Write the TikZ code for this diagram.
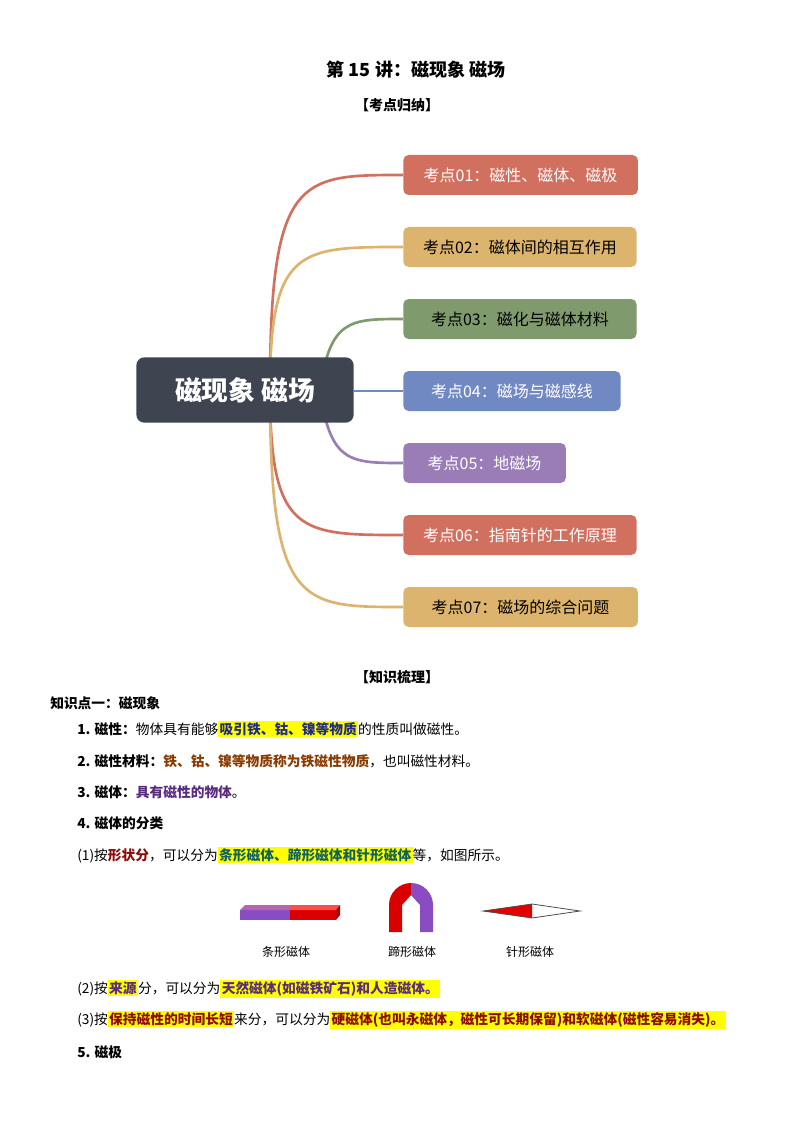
\documentclass[tikz,border=0pt]{standalone}
\usepackage{fontspec}
\usepackage{xcolor}
\setmainfont{Noto Sans CJK SC}
\usetikzlibrary{positioning,calc}
\definecolor{hub}{HTML}{3E4450}
\definecolor{cred}{HTML}{D2705F}
\definecolor{cyel}{HTML}{DDB46E}
\definecolor{cgrn}{HTML}{7F9A6C}
\definecolor{cblu}{HTML}{7189C2}
\definecolor{cpur}{HTML}{9A7DB6}
\definecolor{hlyel}{HTML}{FFFF00}
\definecolor{tblue}{HTML}{1F2A8C}
\definecolor{tbrown}{HTML}{8A3B00}
\definecolor{tpurp}{HTML}{5A2A80}
\definecolor{tred}{HTML}{8C0A0A}
\definecolor{tteal}{HTML}{0F6060}
\newcommand{\hlt}[2]{{\setlength{\fboxsep}{1pt}\colorbox{hlyel}{\textbf{\color{#1}#2}}}}
\tikzset{
  topic/.style={rounded corners=4pt, minimum height=30pt, inner xsep=10pt, text=white, font=\fontsize{12}{14}\selectfont, anchor=west},
  branch/.style={line width=2pt},
  line/.style={anchor=west, inner sep=0pt, font=\fontsize{10.3}{12}\selectfont},
  caption/.style={font=\fontsize{9}{11}\selectfont}
}
\begin{document}
\begin{tikzpicture}[x=0.75pt,y=-0.75pt]
  \useasboundingbox (0,0) rectangle (794,1123);
  % Headings
  \node[font=\bfseries\fontsize{13.5}{16}\selectfont] (title) at (416,70) {第 15 讲：磁现象 磁场};
  \node[font=\bfseries\fontsize{10.5}{12}\selectfont] (sum) at (397,105) {【考点归纳】};

  % Mind map
  \foreach \y/\c in {175/cred,247/cyel,535/cred,607/cyel}
    \draw[branch,\c] (270,390) .. controls (270,\y) and (300,\y) .. (403,\y);
  \draw[branch,cgrn] (320,390) .. controls (330,319) and (350,319) .. (403,319);
  \draw[branch,cpur] (320,390) .. controls (330,463) and (350,463) .. (403,463);
  \draw[branch,cblu] (354,391) -- (403,391);
  \node[fill=hub, rounded corners=6pt, minimum width=163pt, minimum height=49pt, text=white,
        font=\bfseries\fontsize{20}{24}\selectfont] (hub) at (245,390) {磁现象 磁场};
  \node[topic,fill=cred,minimum width=176pt] (k1) at (403,175) {考点01：磁性、磁体、磁极};
  \node[topic,fill=cyel,minimum width=175pt,text=black] (k2) at (403,247) {考点02：磁体间的相互作用};
  \node[topic,fill=cgrn,minimum width=175pt,text=black] (k3) at (403,319) {考点03：磁化与磁体材料};
  \node[topic,fill=cblu,minimum width=163pt] (k4) at (403,391) {考点04：磁场与磁感线};
  \node[topic,fill=cpur,minimum width=122pt] (k5) at (403,463) {考点05：地磁场};
  \node[topic,fill=cred,minimum width=175pt] (k6) at (403,535) {考点06：指南针的工作原理};
  \node[topic,fill=cyel,minimum width=176pt,text=black] (k7) at (403,607) {考点07：磁场的综合问题};

  % Knowledge
  \node[font=\bfseries\fontsize{10.5}{12}\selectfont] (know) at (397,677) {【知识梳理】};
  \node[line,font=\bfseries\fontsize{10.3}{12}\selectfont] (p0) at (50,703) {知识点一：磁现象};
  \node[line] (p1) at (77,729) {\textbf{1. 磁性：}物体具有能够\hlt{tblue}{吸引铁、钴、镍等物质}的性质叫做磁性。};
  \node[line] (p2) at (77,761) {\textbf{2. 磁性材料：}\textbf{\color{tbrown}铁、钴、镍等物质称为铁磁性物质}，也叫磁性材料。};
  \node[line] (p3) at (77,792) {\textbf{3. 磁体：}\textbf{\color{tpurp}具有磁性的物体}。};
  \node[line] (p4) at (77,823) {\textbf{4. 磁体的分类}};
  \node[line] (p5) at (77,855) {(1)按\textbf{\color{tred}形状分}，可以分为\hlt{tteal}{条形磁体、蹄形磁体和针形磁体}等，如图所示。};

  % Magnets
  \fill[blue!55!purple!70] (240,910) rectangle (290,920);
  \fill[blue!30!purple!60] (240,910) -- (245,905) -- (290,905) -- (290,910) -- cycle;
  \fill[red!85!black] (290,910) rectangle (336,920);
  \fill[red!70] (290,905) -- (340,905) -- (336,910) -- (290,910) -- cycle;
  \fill[red!70!black] (336,910) -- (340,905) -- (340,915) -- (336,920) -- cycle;
  \fill[red!85!black] (389,932) -- (389,905) arc[start angle=180,end angle=90,x radius=22,y radius=-22] -- (411,895) -- (402,905) -- (402,932) -- cycle;
  \fill[blue!55!purple!70] (411,883) arc[start angle=90,end angle=0,x radius=22,y radius=-22] -- (433,932) -- (420,932) -- (420,905) -- (411,895) -- cycle;
  \fill[red!90!black] (483,911) -- (532,904) -- (532,918) -- cycle;
  \draw[black!70,line width=0.6pt] (483,911) -- (532,904) -- (580,911) -- (532,918) -- cycle;
  \node[caption] (bar) at (286,952) {条形磁体};
  \node[caption] (shoe) at (412,952) {蹄形磁体};
  \node[caption] (needle) at (530,952) {针形磁体};

  \node[line] (p6) at (77,989) {(2)按\hlt{tpurp}{来源}分，可以分为\hlt{tpurp}{天然磁体(如磁铁矿石)和人造磁体。}};
  \node[line] (p7) at (77,1020) {(3)按\hlt{tred}{保持磁性的时间长短}来分，可以分为\hlt{tred}{硬磁体(也叫永磁体，磁性可长期保留)和软磁体(磁性容易消失)。}};
  \node[line] (p8) at (77,1052) {\textbf{5. 磁极}};
\end{tikzpicture}
\end{document}
